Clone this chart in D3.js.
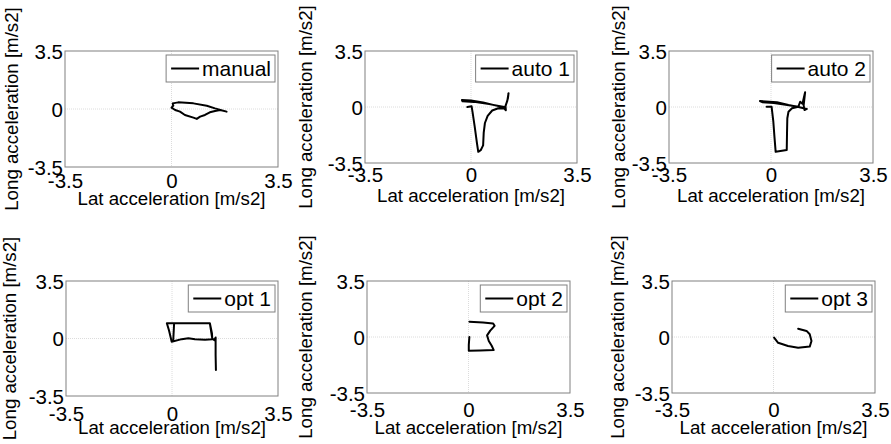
<!DOCTYPE html>
<html>
<head>
<meta charset="utf-8">
<script src="https://cdn.jsdelivr.net/npm/d3@7"></script>
<style>
  body { margin: 0; background: #fff; }
  svg { display: block; font-family: "Liberation Sans", Arial, sans-serif; }
</style>
</head>
<body>
<svg id="chart" width="891" height="444"></svg>
<script>
// tick labels and axis titles
const tickValues = [-3.5, 0, 3.5]
const xTitle = 'Lat acceleration [m/s2]'
const yTitle = 'Long acceleration [m/s2]'
const names = ['manual', 'auto 1', 'auto 2', 'opt 1', 'opt 2', 'opt 3']

// lateral / longitudinal acceleration traces
const manualLat = [0.04, 0.22, 0.72, 1.16, 1.43, 1.81, 1.6, 1.43, 1.26, 1.1, 0.94, 0.83, 0.72, 0.44, 0.28, 0.12, 0.0, 0.06, 0.04]
const manualLong = [0.34, 0.40, 0.34, 0.2, 0.04, -0.16, -0.06, -0.12, -0.2, -0.36, -0.46, -0.6, -0.52, -0.36, -0.16, -0.06, 0.08, 0.2, 0.34]

const auto1Lat = [-0.12, 0.02, 0.05, 0.12, 0.2, 0.24, 0.32, 0.4, 0.42, 0.46, 0.55, 0.7, 0.9, 1.1, 1.15, 1.14, 1.22, 1.24, 1.2, 1.12, 0.8, 0.4, 0.0, -0.3, -0.28, 0.1, 0.6, 1.1]
const auto1Long = [0.0, 0.04, -0.3, -1.2, -2.3, -2.8, -2.7, -2.4, -1.6, -1.0, -0.55, -0.22, -0.08, -0.1, -0.2, 0.05, 0.55, 0.86, 0.4, -0.04, 0.1, 0.28, 0.4, 0.44, 0.36, 0.32, 0.18, 0.0]

const auto2Lat = [-0.15, 0.02, 0.08, 0.12, 0.16, 0.54, 0.55, 0.56, 0.6, 0.72, 0.94, 1.0, 1.08, 1.17, 1.12, 1.15, 1.23, 0.94, 0.6, 0.2, -0.38, -0.3, 0.1, 0.5, 0.94]
const auto2Long = [0.02, 0.02, -0.92, -1.9, -2.8, -2.69, -1.6, -0.7, -0.3, -0.08, 0.02, 0.33, 0.2, 0.92, 0.1, -0.19, -0.12, 0.0, 0.12, 0.3, 0.37, 0.3, 0.25, 0.14, 0.02]

const opt1Lat = [0.04, 0.07, -0.17, -0.1, -0.01, 0.32, 0.54, 0.76, 1.09, 1.33, 1.32, 1.25, 0.07, 1.25, 1.33, 1.4, 1.44, 1.44, 1.45]
const opt1Long = [-0.15, 0.93, 0.93, 0.5, -0.2, -0.04, 0.02, -0.05, -0.08, -0.05, 0.3, 0.93, 0.93, 0.93, 0.0, -0.1, 0.06, -1.0, -1.92]

const opt2Lat = [0.03, 0.01, 0.01, 0.4, 0.87, 0.8, 0.7, 0.64, 0.75, 0.9, 0.85, 0.5, 0.03]
const opt2Long = [0.0, -0.5, -0.86, -0.84, -0.82, -0.55, -0.25, 0.1, 0.4, 0.7, 0.85, 0.9, 0.96]

const opt3Lat = [0.02, 0.16, 0.5, 0.85, 1.25, 1.31, 1.25, 1.14, 0.85]
const opt3Long = [-0.04, -0.36, -0.56, -0.67, -0.6, -0.25, 0.17, 0.38, 0.52]

const latSeries = [manualLat, auto1Lat, auto2Lat, opt1Lat, opt2Lat, opt3Lat]
const longSeries = [manualLong, auto1Long, auto2Long, opt1Long, opt2Long, opt3Long]

/* 每个子图的位置: 轴框, y 标题 x, 刻度/标题 基线偏移 */
const layout = [
    {box: [65, 51, 278, 167], ylx: 18, tickDy: 21, labDy: 38},
    {box: [365, 51, 577, 163], ylx: 312, tickDy: 19, labDy: 39},
    {box: [669, 51, 873, 163], ylx: 625, tickDy: 19, labDy: 39},
    {box: [66, 281, 278, 396], ylx: 16, tickDy: 25, labDy: 38},
    {box: [367, 281, 570, 393], ylx: 312, tickDy: 24, labDy: 41},
    {box: [672, 281, 875, 393], ylx: 624, tickDy: 24, labDy: 41}
]

const svg = d3.select('#chart')
const fmt = d => String(d)

names.forEach((name, i) => {
    const L = layout[i]
    const [x0, y0, x1, y1] = L.box
    const x = d3.scaleLinear().domain([-3.5, 3.5]).range([x0, x1])
    const y = d3.scaleLinear().domain([-3.5, 3.5]).range([y1, y0])
    const g = svg.append('g')

    /* 零位网格线 */
    g.append('line')
        .attr('x1', x(0)).attr('x2', x(0)).attr('y1', y0).attr('y2', y1)
        .attr('stroke', '#dcdcdc').attr('stroke-width', 1).attr('stroke-dasharray', '1,1')
    g.append('line')
        .attr('x1', x0).attr('x2', x1).attr('y1', y(0)).attr('y2', y(0))
        .attr('stroke', '#dcdcdc').attr('stroke-width', 1).attr('stroke-dasharray', '1,1')

    /* 坐标轴 (只留刻度文字) */
    const ax = g.append('g').attr('transform', `translate(0,${y1})`)
        .call(d3.axisBottom(x).tickValues(tickValues).tickFormat(fmt).tickSize(0).tickPadding(0))
    ax.select('.domain').remove()
    ax.selectAll('text').attr('y', L.tickDy).attr('dy', 0)
        .attr('font-size', 20.5).attr('fill', '#000').attr('font-family', 'Liberation Sans, Arial, sans-serif')

    const ay = g.append('g').attr('transform', `translate(${x0},0)`)
        .call(d3.axisLeft(y).tickValues(tickValues).tickFormat(fmt).tickSize(0).tickPadding(2))
    ay.select('.domain').remove()
    ay.selectAll('text').attr('dy', '0.36em')
        .attr('font-size', 20.5).attr('fill', '#000').attr('font-family', 'Liberation Sans, Arial, sans-serif')

    /* 轴框 */
    g.append('rect')
        .attr('x', x0).attr('y', y0).attr('width', x1 - x0).attr('height', y1 - y0)
        .attr('fill', 'none').attr('stroke', '#808080').attr('stroke-width', 1)

    /* 曲线 */
    const pts = latSeries[i].map((v, k) => [v, longSeries[i][k]])
    g.append('path')
        .datum(pts)
        .attr('d', d3.line().x(d => x(d[0])).y(d => y(d[1])))
        .attr('fill', 'none').attr('stroke', '#000').attr('stroke-width', 2)
        .attr('stroke-linejoin', 'round').attr('stroke-linecap', 'round')

    /* 轴标题 */
    g.append('text')
        .attr('x', (x0 + x1) / 2).attr('y', y1 + L.labDy)
        .attr('text-anchor', 'middle').attr('font-size', 18.7)
        .text(xTitle)
    g.append('text')
        .attr('transform', `translate(${L.ylx},${(y0 + y1) / 2}) rotate(-90)`)
        .attr('text-anchor', 'middle').attr('font-size', 18.7)
        .text(yTitle)

    /* 图例 */
    const leg = g.append('g')
    const lt = leg.append('text').attr('font-size', 21).text(name)
    const tw = lt.node().getComputedTextLength()
    const lw = 5 + 28 + 3 + tw + 4, lh = 27
    const lx = x1 - 3 - lw, ly = y0 + 4
    leg.insert('rect', 'text')
        .attr('x', lx).attr('y', ly).attr('width', lw).attr('height', lh)
        .attr('fill', '#fff').attr('stroke', '#808080').attr('stroke-width', 1)
    leg.append('line')
        .attr('x1', lx + 5).attr('x2', lx + 33).attr('y1', ly + lh / 2).attr('y2', ly + lh / 2)
        .attr('stroke', '#000').attr('stroke-width', 2)
    lt.attr('x', lx + 36).attr('y', ly + lh / 2 + 7.5)
})
</script>
</body>
</html>
